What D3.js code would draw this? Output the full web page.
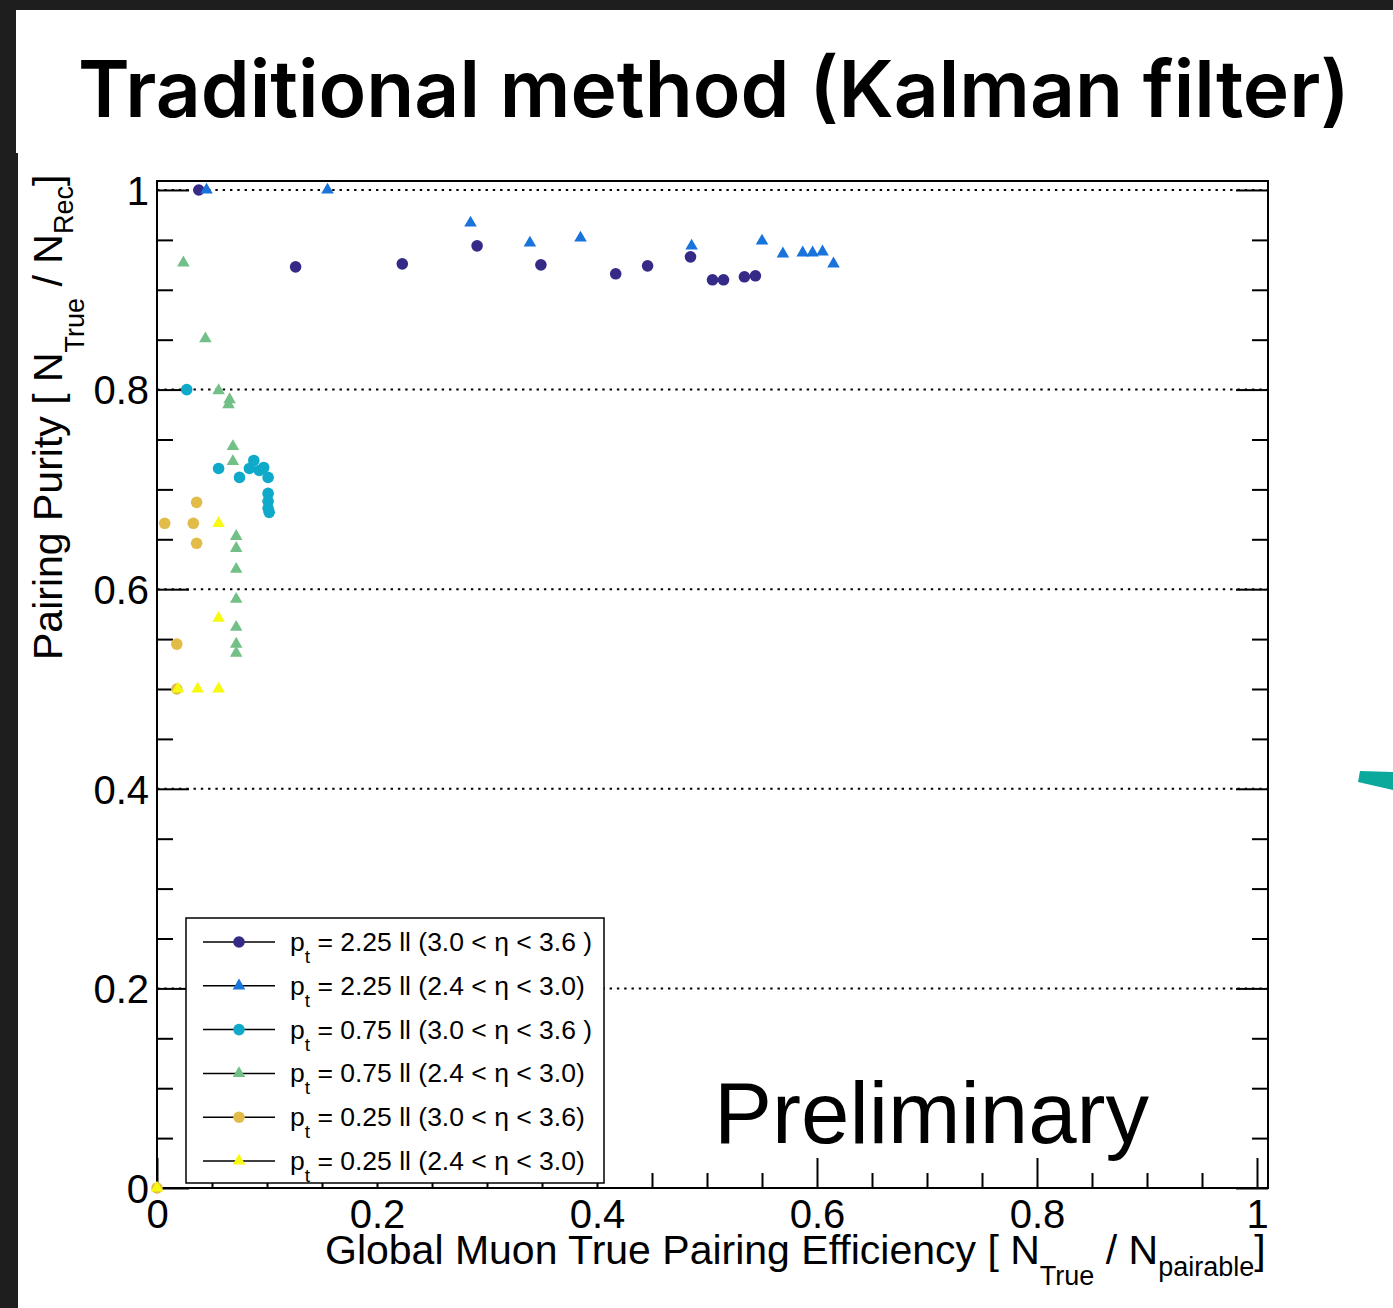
<!DOCTYPE html>
<html>
<head>
<meta charset="utf-8">
<script src="https://cdn.jsdelivr.net/npm/d3@7"></script>
<style>
  html, body { margin: 0; padding: 0; background: #1e1e1e; }
  svg { display: block; }
  text { font-family: "Liberation Sans", Arial, sans-serif; fill: #000; }
</style>
</head>
<body>
<script>
const W = 1393, H = 1308;

// series labels (legend order)
const seriesNames = [
  "2.25 ll (3.0 < η < 3.6 )",
  "2.25 ll (2.4 < η < 3.0)",
  "0.75 ll (3.0 < η < 3.6 )",
  "0.75 ll (2.4 < η < 3.0)",
  "0.25 ll (3.0 < η < 3.6)",
  "0.25 ll (2.4 < η < 3.0)"
];
const seriesColors = ["#352a87", "#1873db", "#0fa9c9", "#72c087", "#e2bc49", "#f7f90e"];
const seriesShapes = ["circle", "triangle", "circle", "triangle", "circle", "triangle"];

// pt = 2.25, 3.0 < eta < 3.6
const effA = [0.038, 0.126, 0.223, 0.291, 0.349, 0.417, 0.446, 0.485, 0.505, 0.515, 0.534, 0.544];
const purA = [1.000, 0.923, 0.926, 0.944, 0.925, 0.916, 0.924, 0.933, 0.910, 0.910, 0.913, 0.914];
// pt = 2.25, 2.4 < eta < 3.0
const effB = [0.045, 0.155, 0.285, 0.339, 0.385, 0.486, 0.550, 0.569, 0.587, 0.596, 0.605, 0.615];
const purB = [1.000, 1.000, 0.967, 0.947, 0.952, 0.944, 0.949, 0.936, 0.937, 0.937, 0.938, 0.926];
// pt = 0.75, 3.0 < eta < 3.6
const effC = [0.027, 0.056, 0.075, 0.084, 0.088, 0.093, 0.097, 0.101, 0.101, 0.101, 0.101, 0.102];
const purC = [0.800, 0.721, 0.712, 0.721, 0.729, 0.719, 0.722, 0.712, 0.696, 0.688, 0.681, 0.677];
// pt = 0.75, 2.4 < eta < 3.0
const effD = [0.024, 0.044, 0.056, 0.066, 0.065, 0.069, 0.069, 0.072, 0.072, 0.072, 0.072, 0.072, 0.072, 0.072];
const purD = [0.927, 0.851, 0.799, 0.790, 0.785, 0.743, 0.728, 0.653, 0.641, 0.620, 0.590, 0.562, 0.545, 0.536];
// pt = 0.25, 3.0 < eta < 3.6
const effE = [0.000, 0.007, 0.018, 0.018, 0.033, 0.036, 0.036];
const purE = [0.000, 0.666, 0.545, 0.500, 0.666, 0.687, 0.646];
// pt = 0.25, 2.4 < eta < 3.0
const effF = [0.000, 0.019, 0.037, 0.056, 0.056, 0.056];
const purF = [0.000, 0.500, 0.500, 0.500, 0.571, 0.666];

const effs = [effA, effB, effC, effD, effE, effF];
const purs = [purA, purB, purC, purD, purE, purF];

const majorTicks = [0, 0.2, 0.4, 0.6, 0.8, 1];
const minorTicks = d3.range(0, 21).map(i => i * 0.05).filter(v => Math.abs(v * 5 - Math.round(v * 5)) > 1e-6);

const svg = d3.select("body").append("svg")
  .attr("width", W)
  .attr("height", H);

// white page areas over the dark background
svg.append("rect").attr("x", 16).attr("y", 10).attr("width", W - 16).attr("height", 143).attr("fill", "#fff");
svg.append("rect").attr("x", 18).attr("y", 152).attr("width", W - 18).attr("height", H - 152).attr("fill", "#fff");

// title, sized to span the same width as the slide heading
const title = svg.append("text")
  .attr("x", 78).attr("y", 117)
  .style("font-family", "Inter, 'Open Sans', sans-serif")
  .style("font-weight", 600)
  .style("font-size", "82px")
  .text("Traditional method (Kalman filter)");
const tw = title.node().getComputedTextLength();
title.style("font-size", (82 * 1272 / tw) + "px");

const L = 157, R = 1268, T = 181, B = 1188;
const x = d3.scaleLinear().domain([0, 1.01]).range([L, R]);
const y = d3.scaleLinear().domain([0, 1.009]).range([B, T]);

// dotted horizontal grid
svg.append("g").selectAll("line")
  .data(majorTicks.filter(v => v > 0))
  .join("line")
  .attr("x1", L).attr("x2", R)
  .attr("y1", d => y(d)).attr("y2", d => y(d))
  .attr("stroke", "#000")
  .attr("stroke-width", 2)
  .attr("stroke-dasharray", "2.4,4.9");

// axes (ticks pointing inward)
function styleAxis(g, fs) {
  g.select(".domain").remove();
  g.selectAll(".tick line").attr("stroke", "#000").attr("stroke-width", 2);
  g.selectAll(".tick text")
    .style("font-family", "'Liberation Sans', Arial, sans-serif")
    .style("font-size", fs + "px")
    .attr("fill", "#000");
}
const fmt = d => d === 0 || d === 1 ? String(d) : d3.format(".1f")(d);

svg.append("g").attr("transform", `translate(${L},0)`)
  .call(d3.axisLeft(y).tickValues(majorTicks).tickSize(-32).tickPadding(8).tickFormat(fmt))
  .call(g => styleAxis(g, 40))
  .call(g => g.selectAll(".tick text").attr("dy", "0.36em"));
svg.append("g").attr("transform", `translate(${L},0)`)
  .call(d3.axisLeft(y).tickValues(minorTicks).tickSize(-16).tickFormat(""))
  .call(g => styleAxis(g, 40));
svg.append("g").attr("transform", `translate(${R},0)`)
  .call(d3.axisRight(y).tickValues(majorTicks).tickSize(-32).tickFormat(""))
  .call(g => styleAxis(g, 40));
svg.append("g").attr("transform", `translate(${R},0)`)
  .call(d3.axisRight(y).tickValues(minorTicks).tickSize(-16).tickFormat(""))
  .call(g => styleAxis(g, 40));
svg.append("g").attr("transform", `translate(0,${B})`)
  .call(d3.axisBottom(x).tickValues(majorTicks).tickSize(-30).tickPadding(12).tickFormat(fmt))
  .call(g => styleAxis(g, 40));
svg.append("g").attr("transform", `translate(0,${B})`)
  .call(d3.axisBottom(x).tickValues(minorTicks).tickSize(-15).tickFormat(""))
  .call(g => styleAxis(g, 40));

// frame
svg.append("rect")
  .attr("x", L).attr("y", T).attr("width", R - L).attr("height", B - T)
  .attr("fill", "none").attr("stroke", "#000").attr("stroke-width", 2);

// axis titles
const xt = svg.append("text").attr("x", 325).attr("y", 1264).style("font-size", "41px");
xt.append("tspan").text("Global Muon True Pairing Efficiency [ N");
xt.append("tspan").attr("dy", 21).style("font-size", "27px").text("True");
xt.append("tspan").attr("dy", -21).text("  / N");
xt.append("tspan").attr("dy", 12).style("font-size", "27px").text("pairable");
xt.append("tspan").attr("dy", -12).text("]");

const yt = svg.append("text").attr("transform", "translate(62,660) rotate(-90)").style("font-size", "41px");
yt.append("tspan").text("Pairing Purity [ N");
yt.append("tspan").attr("dy", 22).style("font-size", "27px").text("True");
yt.append("tspan").attr("dy", -22).text("  / N");
yt.append("tspan").attr("dy", 11).style("font-size", "27px").text("Rec");
yt.append("tspan").attr("dy", -11).text("]");

// markers
const triangle = d3.symbol().type(d3.symbolTriangle).size(68);
function drawMarker(sel, shape, color) {
  if (shape === "circle") {
    sel.append("circle").attr("r", 5.8).attr("fill", color);
  } else {
    sel.append("path").attr("d", triangle).attr("fill", color);
  }
}

const pts = svg.append("g");
effs.forEach((ex, s) => {
  ex.forEach((v, i) => {
    const g = pts.append("g").attr("transform", `translate(${x(v)},${y(purs[s][i])})`);
    drawMarker(g, seriesShapes[s], seriesColors[s]);
  });
});

// legend
const lg = svg.append("g");
lg.append("rect")
  .attr("x", 186).attr("y", 918).attr("width", 418).attr("height", 265)
  .attr("fill", "#fff").attr("stroke", "#000").attr("stroke-width", 1.5);
seriesNames.forEach((name, i) => {
  const cy = 942 + i * 43.8;
  lg.append("line").attr("x1", 203).attr("x2", 275).attr("y1", cy).attr("y2", cy)
    .attr("stroke", "#000").attr("stroke-width", 1.5);
  const m = lg.append("g").attr("transform", `translate(239,${cy})`);
  drawMarker(m, seriesShapes[i], seriesColors[i]);
  const t = lg.append("text").attr("x", 290).attr("y", cy + 9).style("font-size", "26.5px");
  t.append("tspan").text("p");
  t.append("tspan").attr("dy", 12).style("font-size", "19px").text("t");
  t.append("tspan").attr("dy", -12).text(" = " + name);
});

// Preliminary
svg.append("text")
  .attr("x", 714).attr("y", 1143)
  .style("font-size", "87px")
  .text("Preliminary");

// teal arrow fragment at right edge
svg.append("polygon")
  .attr("points", "1360,771 1393,772 1393,790 1358,782")
  .attr("fill", "#0aa99c");
</script>
</body>
</html>
